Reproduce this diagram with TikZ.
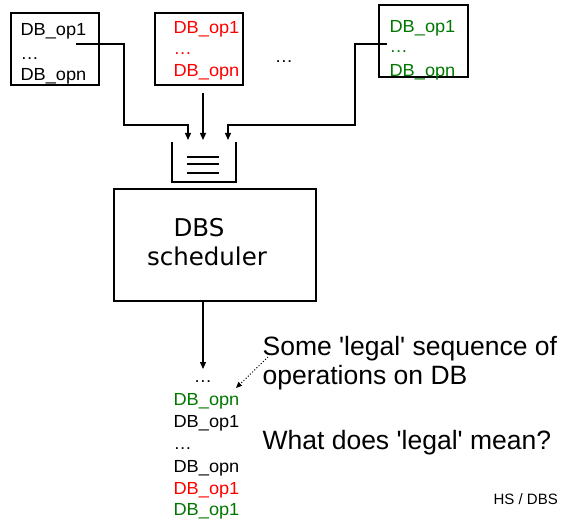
\documentclass[tikz,border=0pt]{standalone}
\usepackage{fontspec}
\newfontfamily\arialish{Liberation Sans}[FakeStretch=1.04]
\newfontfamily\arialplain{Liberation Sans}
\newfontfamily\schedfont{DejaVu Sans}
\usetikzlibrary{arrows.meta}
\definecolor{opred}{RGB}{255,0,0}
\definecolor{opgreen}{RGB}{0,120,0}
\begin{document}
\begin{tikzpicture}[x=1pt,y=-1pt,line width=1.2pt,
  opbox/.style={draw,line width=1.3pt,inner sep=0pt,minimum height=72pt},
  op/.style={anchor=base west,inner sep=0pt,font=\arialish\fontsize{17.5}{20}\selectfont},
  big/.style={anchor=base west,inner sep=0pt,font=\arialplain\fontsize{26.5}{30}\selectfont},
  arr/.style={-{Triangle[length=7pt,width=6pt]}},
  sched/.style={inner sep=0pt,anchor=base,font=\schedfont\fontsize{24.5}{28}\selectfont}]
\useasboundingbox (0,0) rectangle (562,521);
% input boxes
\node[opbox,minimum width=88pt] (b1) at (55,49) {};
\node[opbox,minimum width=88pt] (b2) at (199,49) {};
\node[opbox,minimum width=89pt] (b3) at (423.5,41) {};
\node[op] (b1a) at (20,36) {DB\_op1};
\node[op] (b1b) at (20,60) {…};
\node[op] (b1c) at (20,81) {DB\_opn};
\node[op,text=opred] (b2a) at (173,34) {DB\_op1};
\node[op,text=opred] (b2b) at (173,55) {…};
\node[op,text=opred] (b2c) at (173,77) {DB\_opn};
\node[op,text=opgreen] (b3a) at (389,33) {DB\_op1};
\node[op,text=opgreen] (b3b) at (389,53) {…};
\node[op,text=opgreen] (b3c) at (389,77) {DB\_opn};
\node[op,anchor=base] (middots) at (284,63) {…};
% queue
\coordinate (q1) at (188,140);
\coordinate (q2) at (203,140);
\coordinate (q3) at (228,140);
\draw (172,142) |- (236,182) -- (236,142);
\draw (187,157) -- (219,157) (187,164) -- (219,164) (187,173) -- (219,173);
% connectors to queue
\coordinate (s1) at (76,44);
\coordinate (s2) at (203,93);
\coordinate (s3) at (387,44);
\draw[arr] (s1) -| (124,125) -| (q1);
\draw[arr] (s2) -- (q2);
\draw[arr] (s3) -| (355,125) -| (q3);
% scheduler
\node[draw,line width=1.3pt,minimum width=202pt,minimum height=112pt] (sched) at (215,245) {};
\node[sched] (dbs) at (199,237) {DBS};
\node[sched] (schedtxt) at (207,266) {scheduler};
% output sequence
\node[op,anchor=base] (seqdots) at (203,382) {…};
\coordinate (out) at (203,301);
\coordinate (outtip) at (203,369);
\draw[arr] (out) -- (outtip);
\node[op,text=opgreen] (o1) at (173,405) {DB\_opn};
\node[op] (o2) at (173,427) {DB\_op1};
\node[op] (o3) at (173,449) {…};
\node[op] (o4) at (173,472) {DB\_opn};
\node[op,text=opred] (o5) at (173,494) {DB\_op1};
\node[op,text=opgreen] (o6) at (173,515) {DB\_op1};
% annotation
\node[big] (t1) at (262,355) {Some 'legal' sequence of};
\node[big] (t2) at (262,384) {operations on DB};
\node[big] (t3) at (262,449) {What does 'legal' mean?};
\node[anchor=base west,inner sep=0pt,font=\arialplain\fontsize{15}{17}\selectfont] (hs) at (493,504) {HS / DBS};
\coordinate (d1) at (268,357);
\coordinate (d2) at (236,388);
\draw[dotted,line width=1pt,-{Triangle[length=6pt,width=5pt]}] (d1) -- (d2);
\end{tikzpicture}
\end{document}
